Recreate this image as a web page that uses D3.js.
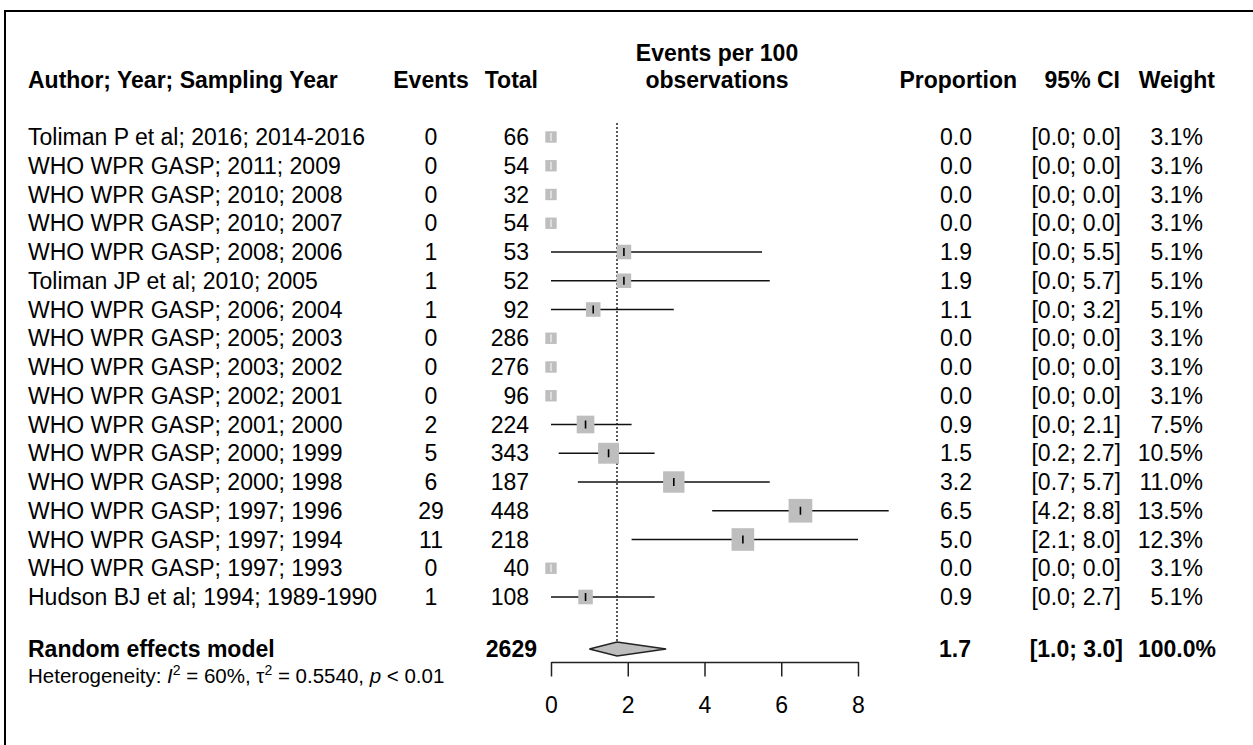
<!DOCTYPE html>
<html>
<head>
<meta charset="utf-8">
<script src="https://cdn.jsdelivr.net/npm/d3@7"></script>
<style>
  body { margin: 0; background: #fff; }
  svg { display: block; font-family: "Liberation Sans", Arial, sans-serif; }
</style>
</head>
<body>
<div class="draw"></div>
<script>
// study rows, top to bottom
const studies = [
  "Toliman P et al; 2016; 2014-2016",
  "WHO WPR GASP; 2011; 2009",
  "WHO WPR GASP; 2010; 2008",
  "WHO WPR GASP; 2010; 2007",
  "WHO WPR GASP; 2008; 2006",
  "Toliman JP et al; 2010; 2005",
  "WHO WPR GASP; 2006; 2004",
  "WHO WPR GASP; 2005; 2003",
  "WHO WPR GASP; 2003; 2002",
  "WHO WPR GASP; 2002; 2001",
  "WHO WPR GASP; 2001; 2000",
  "WHO WPR GASP; 2000; 1999",
  "WHO WPR GASP; 2000; 1998",
  "WHO WPR GASP; 1997; 1996",
  "WHO WPR GASP; 1997; 1994",
  "WHO WPR GASP; 1997; 1993",
  "Hudson BJ et al; 1994; 1989-1990"
];
const events = [0, 0, 0, 0, 1, 1, 1, 0, 0, 0, 2, 5, 6, 29, 11, 0, 1];
const totals = [66, 54, 32, 54, 53, 52, 92, 286, 276, 96, 224, 343, 187, 448, 218, 40, 108];
const proportion = [0.0, 0.0, 0.0, 0.0, 1.9, 1.9, 1.1, 0.0, 0.0, 0.0, 0.9, 1.5, 3.2, 6.5, 5.0, 0.0, 0.9];
const ciLower = [0.0, 0.0, 0.0, 0.0, 0.0, 0.0, 0.0, 0.0, 0.0, 0.0, 0.0, 0.2, 0.7, 4.2, 2.1, 0.0, 0.0];
const ciUpper = [0.0, 0.0, 0.0, 0.0, 5.5, 5.7, 3.2, 0.0, 0.0, 0.0, 2.1, 2.7, 5.7, 8.8, 8.0, 0.0, 2.7];
const weights = [3.1, 3.1, 3.1, 3.1, 5.1, 5.1, 5.1, 3.1, 3.1, 3.1, 7.5, 10.5, 11.0, 13.5, 12.3, 3.1, 5.1];

// random effects summary
const summaryLabel = "Random effects model";
const summaryTotal = 2629;
const summaryEst = 1.72;
const summaryLower = 1.0;
const summaryUpper = 3.0;
const summaryWeight = 100.0;

const xTicks = [0, 2, 4, 6, 8];

const width = 1253, height = 745;
const svg = d3.select(".draw")
    .append("svg")
    .attr("width", width)
    .attr("height", height);

// frame (only top and left edges are visible)
svg.append("line").attr("x1", 4).attr("x2", width).attr("y1", 11).attr("y2", 11)
    .attr("stroke", "#000").attr("stroke-width", 2);
svg.append("line").attr("x1", 5).attr("x2", 5).attr("y1", 10).attr("y2", height)
    .attr("stroke", "#000").attr("stroke-width", 2);

const x = d3.scaleLinear().domain([0, 8]).range([551, 858]);
const y = d3.scalePoint()
    .domain(d3.range(studies.length))
    .range([137, 597]);
const box = d3.scaleSqrt().domain([0, 13.5]).range([0, 23.7]);

const summaryY = 649;
const fmt = d3.format(".1f");
const fs = 23;

// column positions
const col = { label: 28, events: 431, total: 529, prop: 972, ci: 1121, weight: 1203 };

// headers
const header = svg.append("g")
    .attr("font-weight", "bold")
    .attr("font-size", fs)
    .attr("fill", "#000");
header.append("text").attr("x", col.label).attr("y", 80).attr("dy", "0.35em")
    .text("Author; Year; Sampling Year");
header.append("text").attr("x", col.events).attr("y", 80).attr("dy", "0.35em")
    .attr("text-anchor", "middle").text("Events");
header.append("text").attr("x", 538).attr("y", 80).attr("dy", "0.35em")
    .attr("text-anchor", "end").text("Total");
header.append("text").attr("x", 717).attr("y", 53).attr("dy", "0.35em")
    .attr("text-anchor", "middle").text("Events per 100");
header.append("text").attr("x", 717).attr("y", 80).attr("dy", "0.35em")
    .attr("text-anchor", "middle").text("observations");
header.append("text").attr("x", 1017).attr("y", 80).attr("dy", "0.35em")
    .attr("text-anchor", "end").text("Proportion");
header.append("text").attr("x", 1120).attr("y", 80).attr("dy", "0.35em")
    .attr("text-anchor", "end").text("95% CI");
header.append("text").attr("x", 1215).attr("y", 80).attr("dy", "0.35em")
    .attr("text-anchor", "end").text("Weight");

// text columns for each study
const rows = svg.append("g")
    .attr("font-size", fs)
    .attr("fill", "#000")
    .selectAll("g")
    .data(studies)
    .join("g")
    .attr("transform", (d, i) => `translate(0, ${y(i)})`);

rows.append("text").attr("x", col.label).attr("dy", "0.35em").text(d => d);
rows.append("text").attr("x", col.events).attr("dy", "0.35em")
    .attr("text-anchor", "middle").text((d, i) => events[i]);
rows.append("text").attr("x", col.total).attr("dy", "0.35em")
    .attr("text-anchor", "end").text((d, i) => totals[i]);
rows.append("text").attr("x", col.prop).attr("dy", "0.35em")
    .attr("text-anchor", "end").text((d, i) => fmt(proportion[i]));
rows.append("text").attr("x", col.ci).attr("dy", "0.35em")
    .attr("text-anchor", "end")
    .text((d, i) => `[${fmt(ciLower[i])}; ${fmt(ciUpper[i])}]`);
rows.append("text").attr("x", col.weight).attr("dy", "0.35em")
    .attr("text-anchor", "end").text((d, i) => fmt(weights[i]) + "%");

// reference line at the pooled estimate
svg.append("line")
    .attr("x1", x(summaryEst)).attr("x2", x(summaryEst))
    .attr("y1", 123).attr("y2", summaryY - 8)
    .attr("stroke", "#000")
    .attr("stroke-width", 1.3)
    .attr("stroke-dasharray", "2,2");

// study marks: CI line, weight square, estimate tick
const marks = svg.append("g")
    .selectAll("g")
    .data(studies)
    .join("g")
    .attr("transform", (d, i) => `translate(0, ${y(i)})`);

marks.append("line")
    .attr("x1", (d, i) => x(ciLower[i]))
    .attr("x2", (d, i) => x(ciUpper[i]))
    .attr("stroke", "#111")
    .attr("stroke-width", 1.6);

marks.append("rect")
    .attr("x", (d, i) => x(proportion[i]) - box(weights[i]) / 2)
    .attr("y", (d, i) => -box(weights[i]) / 2)
    .attr("width", (d, i) => box(weights[i]))
    .attr("height", (d, i) => box(weights[i]))
    .attr("fill", "#bebebe");

marks.append("line")
    .attr("x1", (d, i) => x(proportion[i]))
    .attr("x2", (d, i) => x(proportion[i]))
    .attr("y1", -4).attr("y2", 4)
    .attr("stroke", (d, i) => ciUpper[i] > ciLower[i] ? "#000" : "#e6e6e6")
    .attr("stroke-width", 1.6);

// summary row
const summary = svg.append("g")
    .attr("font-size", fs)
    .attr("font-weight", "bold")
    .attr("fill", "#000");
summary.append("text").attr("x", col.label).attr("y", summaryY).attr("dy", "0.35em")
    .text(summaryLabel);
summary.append("text").attr("x", 537).attr("y", summaryY).attr("dy", "0.35em")
    .attr("text-anchor", "end").text(summaryTotal);
summary.append("text").attr("x", 971).attr("y", summaryY).attr("dy", "0.35em")
    .attr("text-anchor", "end").text(fmt(summaryEst));
summary.append("text").attr("x", 1123).attr("y", summaryY).attr("dy", "0.35em")
    .attr("text-anchor", "end").text(`[${fmt(summaryLower)}; ${fmt(summaryUpper)}]`);
summary.append("text").attr("x", 1216).attr("y", summaryY).attr("dy", "0.35em")
    .attr("text-anchor", "end").text(fmt(summaryWeight) + "%");

const diamond = [
  [x(summaryLower), summaryY],
  [x(summaryEst), summaryY - 7],
  [x(summaryUpper), summaryY],
  [x(summaryEst), summaryY + 7]
];
svg.append("path")
    .attr("d", d3.line()(diamond) + "Z")
    .attr("fill", "#bebebe")
    .attr("stroke", "#222")
    .attr("stroke-width", 1.3);

// heterogeneity note (superscripts raised by fixed pixels)
const het = svg.append("text")
    .attr("x", col.label).attr("y", 683)
    .attr("font-size", 20.5).attr("fill", "#000");
het.append("tspan").text("Heterogeneity: ");
het.append("tspan").attr("font-style", "italic").text("I");
het.append("tspan").attr("font-size", 14).attr("dy", -8).text("2");
het.append("tspan").attr("dy", 8).text(" = 60%, \u03c4");
het.append("tspan").attr("font-size", 14).attr("dy", -8).text("2");
het.append("tspan").attr("dy", 8).text(" = 0.5540, ");
het.append("tspan").attr("font-style", "italic").text("p");
het.append("tspan").text(" < 0.01");

// x axis
const xAxis = d3.axisBottom(x)
    .tickValues(xTicks)
    .tickSize(14.5)
    .tickSizeOuter(0)
    .tickPadding(20)
    .tickFormat(d => d);

const xAxisGroup = svg.append("g")
    .attr("transform", "translate(0, 662)")
    .call(xAxis);
xAxisGroup.select(".domain").attr("stroke", "#222").attr("stroke-width", 1.5);
xAxisGroup.selectAll(".tick line").attr("stroke", "#222").attr("stroke-width", 1.5);
xAxisGroup.selectAll("text")
    .attr("font-size", fs)
    .attr("font-family", "'Liberation Sans', Arial, sans-serif")
    .attr("fill", "#000");
</script>
</body>
</html>
